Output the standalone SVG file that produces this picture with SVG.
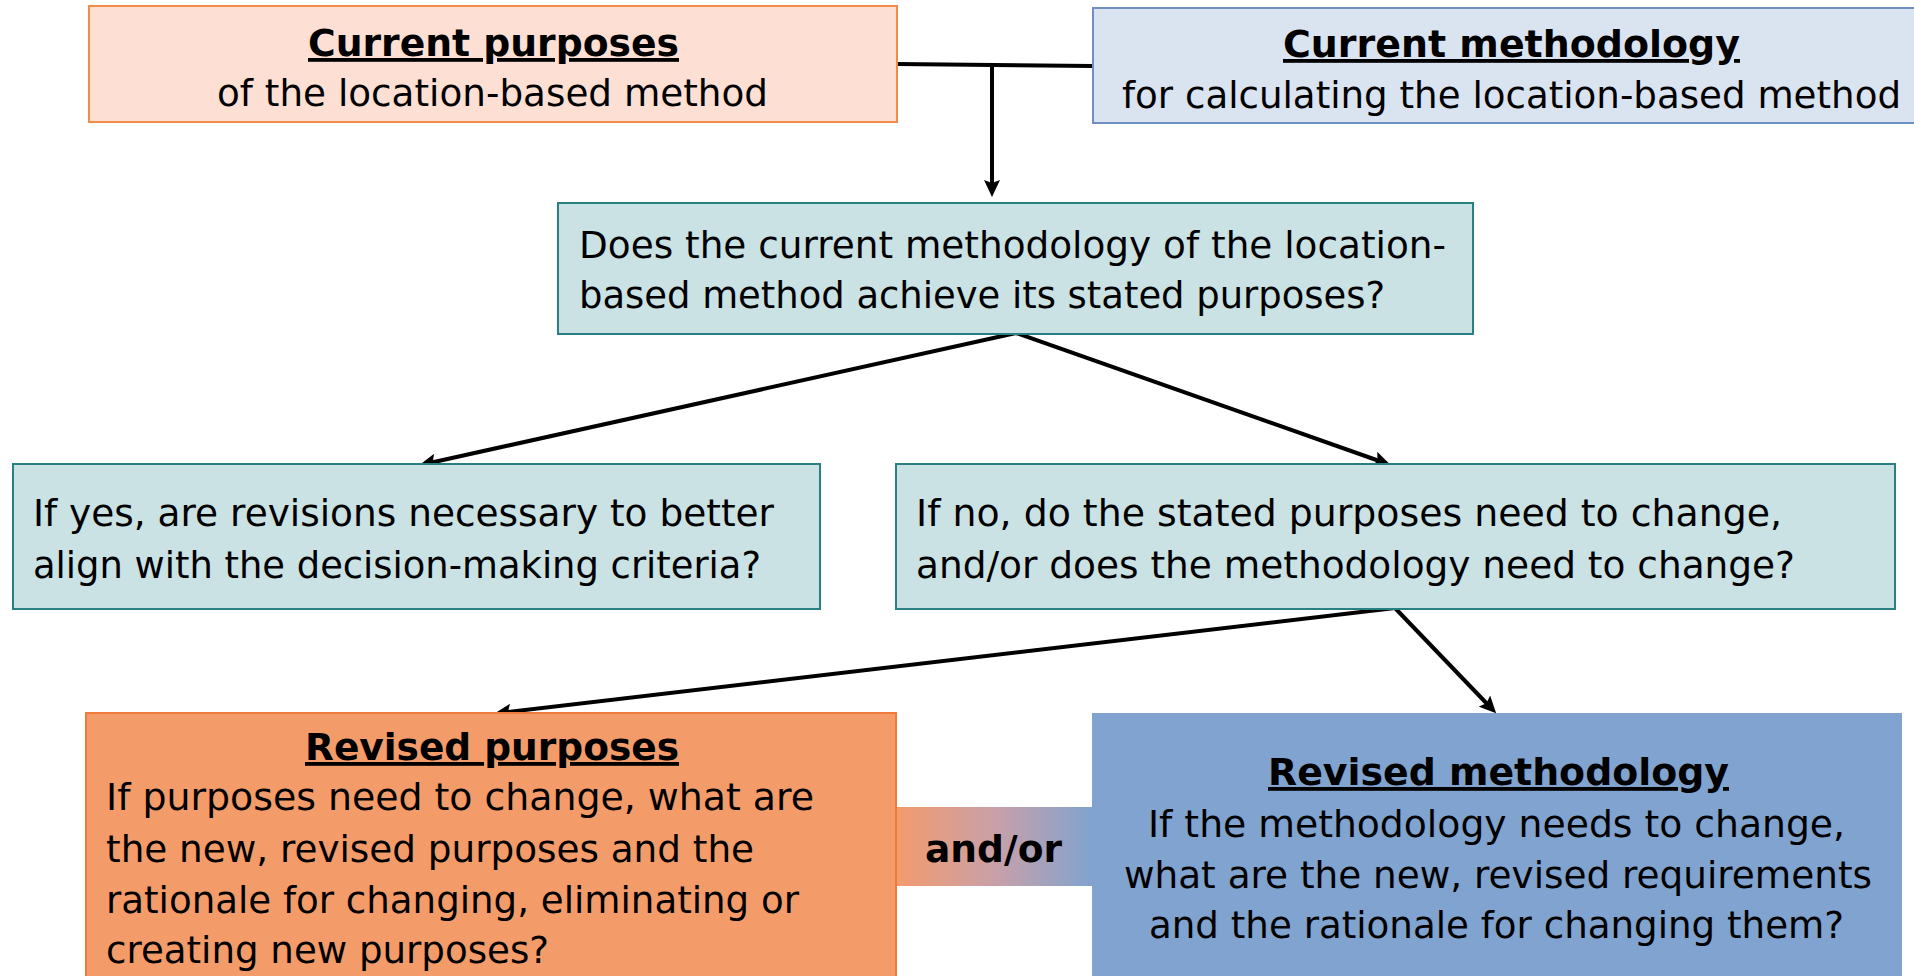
<svg xmlns="http://www.w3.org/2000/svg" width="1914" height="976" viewBox="0 0 1914 976">
<defs>
<style>
text{font-family:"DejaVu Sans","Liberation Sans",sans-serif;font-size:38px;fill:#000;}
.b{font-weight:bold;text-decoration:underline;}
.ab{font-weight:bold;}
.teal{fill:#CAE2E4;stroke:#2A7F82;stroke-width:2;}
.conn{stroke:#000;stroke-width:4;fill:none;}
.arr{marker-end:url(#ah);}
</style>
<marker id="ah" viewBox="0 0 17 16" refX="11" refY="8" markerWidth="17" markerHeight="16" markerUnits="userSpaceOnUse" orient="auto">
<path d="M0,0 L17,8 L0,16 L3,8 z" fill="#000"/>
</marker>
<linearGradient id="andor" x1="0" y1="0" x2="1" y2="0">
<stop offset="0" stop-color="#F39B6C"/>
<stop offset="0.5" stop-color="#C9A0A8"/>
<stop offset="1" stop-color="#80A3CF"/>
</linearGradient>
</defs>

<g id="connectors">
<line class="conn" x1="897" y1="64" x2="1093" y2="66"/>
<line class="conn arr" x1="992" y1="65" x2="992" y2="191"/>
<line class="conn arr" x1="1016" y1="333" x2="425" y2="464"/>
<line class="conn arr" x1="1016" y1="333" x2="1385" y2="463"/>
<line class="conn arr" x1="1395" y1="608" x2="500" y2="713"/>
<line class="conn arr" x1="1395" y1="608" x2="1492" y2="709"/>
</g>

<g id="current-purposes">
<rect x="89" y="6" width="808" height="116" fill="#FDE0D3" stroke="#F58A46" stroke-width="2"/>
<text class="b" x="308" y="56" textLength="371" lengthAdjust="spacingAndGlyphs">Current purposes</text>
<text x="217" y="106" textLength="551" lengthAdjust="spacingAndGlyphs">of the location-based method</text>
</g>

<g id="current-methodology">
<rect x="1093" y="8" width="840" height="115" fill="#DAE3F0" stroke="#6F8FC0" stroke-width="2"/>
<text class="b" x="1283" y="57" textLength="457" lengthAdjust="spacingAndGlyphs">Current methodology</text>
<text x="1122" y="108" textLength="779" lengthAdjust="spacingAndGlyphs">for calculating the location-based method</text>
</g>

<g id="question">
<rect class="teal" x="558" y="203" width="915" height="131"/>
<text x="579" y="258" textLength="867" lengthAdjust="spacingAndGlyphs">Does the current methodology of the location-</text>
<text x="579" y="308" textLength="806" lengthAdjust="spacingAndGlyphs">based method achieve its stated purposes?</text>
</g>

<g id="if-yes">
<rect class="teal" x="13" y="464" width="807" height="145"/>
<text x="33" y="526" textLength="741" lengthAdjust="spacingAndGlyphs">If yes, are revisions necessary to better</text>
<text x="33" y="578" textLength="728" lengthAdjust="spacingAndGlyphs">align with the decision-making criteria?</text>
</g>

<g id="if-no">
<rect class="teal" x="896" y="464" width="999" height="145"/>
<text x="916" y="526" textLength="866" lengthAdjust="spacingAndGlyphs">If no, do the stated purposes need to change,</text>
<text x="916" y="578" textLength="879" lengthAdjust="spacingAndGlyphs">and/or does the methodology need to change?</text>
</g>

<g id="and-or">
<rect x="896" y="807" width="197" height="79" fill="url(#andor)"/>
<text class="ab" x="925" y="862" textLength="137" lengthAdjust="spacingAndGlyphs">and/or</text>
</g>

<g id="revised-purposes">
<rect x="86" y="713" width="810" height="280" fill="#F49B6A" stroke="#F07A3A" stroke-width="2"/>
<text class="b" x="305" y="760" textLength="374" lengthAdjust="spacingAndGlyphs">Revised purposes</text>
<text x="106" y="810" textLength="708" lengthAdjust="spacingAndGlyphs">If purposes need to change, what are</text>
<text x="106" y="862" textLength="648" lengthAdjust="spacingAndGlyphs">the new, revised purposes and the</text>
<text x="106" y="913" textLength="693" lengthAdjust="spacingAndGlyphs">rationale for changing, eliminating or</text>
<text x="106" y="963" textLength="443" lengthAdjust="spacingAndGlyphs">creating new purposes?</text>
</g>

<g id="revised-methodology">
<rect x="1092" y="713" width="810" height="280" fill="#80A3CF"/>
<text class="b" x="1268" y="785" textLength="461" lengthAdjust="spacingAndGlyphs">Revised methodology</text>
<text x="1148" y="837" textLength="697" lengthAdjust="spacingAndGlyphs">If the methodology needs to change,</text>
<text x="1124" y="888" textLength="748" lengthAdjust="spacingAndGlyphs">what are the new, revised requirements</text>
<text x="1149" y="938" textLength="695" lengthAdjust="spacingAndGlyphs">and the rationale for changing them?</text>
</g>
</svg>
